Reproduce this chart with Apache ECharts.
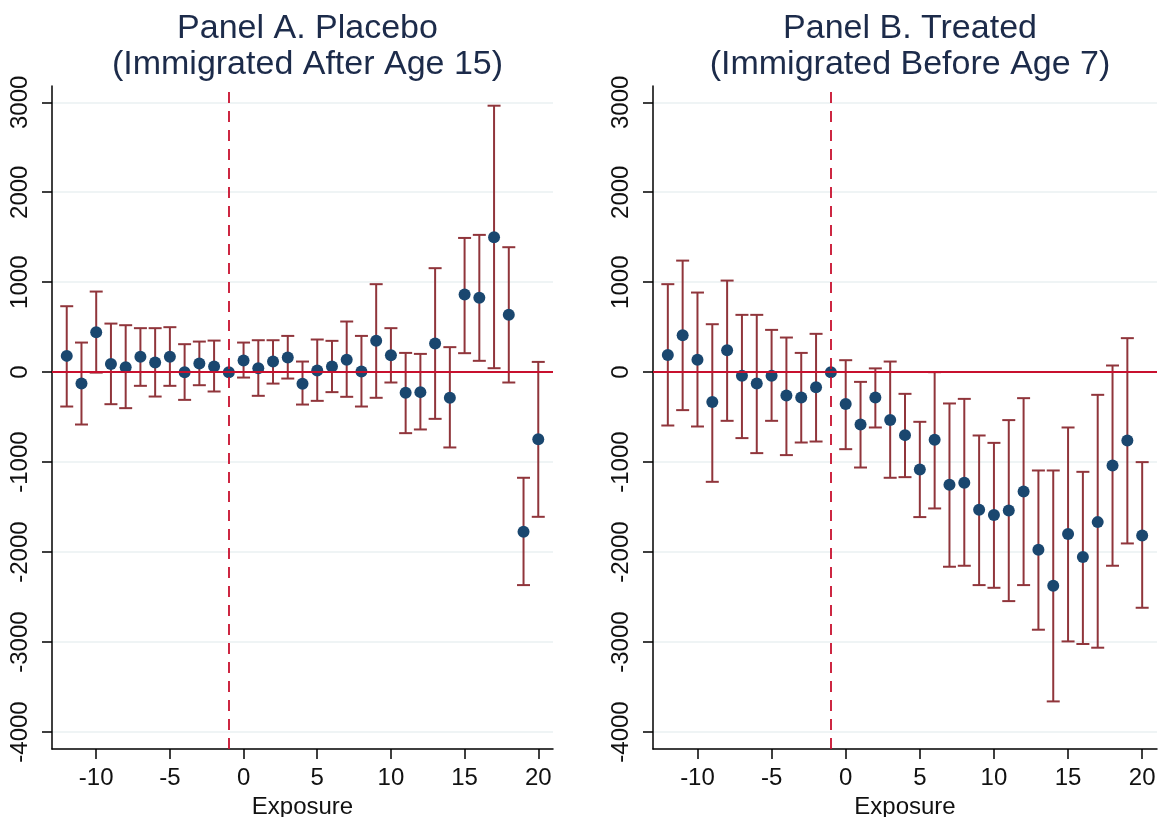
<!DOCTYPE html>
<html>
<head>
<meta charset="utf-8">
<script src="https://cdn.jsdelivr.net/npm/echarts@6/dist/echarts.min.js"></script>
<style>
  html, body {margin: 0; padding: 0; background: #fff;}
  #main {width: 1158px; height: 817px;}
</style>
</head>
<body>
<div id="main"></div>
<script>
// event-time coefficients, exposure -12..20 (-1 is the omitted year)
const exposure = [-12,-11,-10,-9,-8,-7,-6,-5,-4,-3,-2,-1,0,1,2,3,4,5,6,7,8,9,10,11,12,13,14,15,16,17,18,19,20]

const placeboEst = [181,-125,444,92,55,170,107,170,0,96,62,0,129,44,118,163,-130,18,62,137,7,348,189,-230,-222,318,-285,862,826,1500,637,-1774,-745]
const placeboLo = [-382,-582,-5,-356,-400,-152,-271,-152,-308,-145,-215,null,-60,-263,-127,-71,-360,-319,-222,-274,-382,-285,-115,-678,-637,-519,-837,211,126,44,-115,-2367,-1608]
const placeboHi = [733,329,896,540,522,489,489,500,311,340,351,null,329,355,355,403,118,363,348,563,403,978,489,214,203,1156,278,1492,1526,2962,1389,-1174,114]

const treatedEst = [192,411,137,-333,244,-39,-127,-41,-259,-282,-167,0,-354,-582,-282,-531,-700,-1082,-752,-1252,-1230,-1530,-1589,-1537,-1326,-1974,-2374,-1800,-2056,-1667,-1037,-759,-1815]
const treatedLo = [-593,-422,-604,-1219,-541,-733,-900,-541,-922,-782,-771,null,-856,-1060,-615,-1174,-1167,-1611,-1515,-2163,-2152,-2367,-2397,-2545,-2367,-2863,-3660,-2993,-3022,-3063,-2152,-1904,-2619]
const treatedHi = [978,1240,885,533,1018,637,637,470,385,214,426,null,133,-108,42,118,-241,-552,0,-348,-297,-704,-786,-533,-289,-1093,-1093,-615,-1108,-252,74,378,-1000]

const yTicks = [-4000,-3000,-2000,-1000,0,1000,2000,3000]
const xTicks = [-10,-5,0,5,10,15,20]
const titles = ['Panel A. Placebo\n(Immigrated After Age 15)', 'Panel B. Treated\n(Immigrated Before Age 7)']

const font = "'Liberation Sans', Arial, sans-serif"
const navy = '#1a476f'
const maroon = '#90353b'
const red = '#c8102e'

function barData(lo, hi) {
  let out = []
  for (let i = 0; i < exposure.length; i++) {
    if (lo[i] === null) continue
    out.push([exposure[i], lo[i], hi[i]])
  }
  return out
}
function pointData(est) {
  return exposure.map((x, i) => [x, est[i]])
}

function renderBar(params, api) {
  const top = api.coord([api.value(0), api.value(2)])
  const bot = api.coord([api.value(0), api.value(1)])
  const w = 6.5
  const style = {stroke: maroon, lineWidth: 2}
  return {
    type: 'group',
    children: [
      {type: 'line', shape: {x1: top[0], y1: top[1], x2: bot[0], y2: bot[1]}, style: style},
      {type: 'line', shape: {x1: top[0] - w, y1: top[1], x2: top[0] + w, y2: top[1]}, style: style},
      {type: 'line', shape: {x1: bot[0] - w, y1: bot[1], x2: bot[0] + w, y2: bot[1]}, style: style}
    ]
  }
}

const grids = [
  {left: 52, top: 86, width: 501, height: 663, outerBoundsMode: 'none'},
  {left: 653, top: 86, width: 504, height: 663, outerBoundsMode: 'none'}
]

let xAxes = [], yAxes = [], series = [], titleList = []
for (let k = 0; k < 2; k++) {
  titleList.push({
    text: titles[k],
    left: grids[k].left + grids[k].width / 2,
    top: 6,
    textAlign: 'center',
    textStyle: {fontFamily: font, fontSize: 34, fontWeight: 'normal', color: '#1c2b4a', lineHeight: 36}
  })
  xAxes.push({
    gridIndex: k,
    type: 'value',
    min: -13,
    max: 21,
    name: 'Exposure',
    nameLocation: 'middle',
    nameGap: 42,
    nameTextStyle: {fontFamily: font, fontSize: 24, color: '#111'},
    axisLine: {onZero: false, lineStyle: {color: '#000', width: 1.5}},
    axisTick: {customValues: xTicks, length: 10, lineStyle: {color: '#000', width: 1.5}},
    axisLabel: {customValues: xTicks, margin: 17, fontFamily: font, fontSize: 24, color: '#111',
      formatter: v => String(v)},
    splitLine: {show: false}
  })
  yAxes.push({
    gridIndex: k,
    type: 'value',
    min: -4189,
    max: 3181,
    axisLine: {show: true, onZero: false, lineStyle: {color: '#000', width: 1.5}},
    axisTick: {customValues: yTicks, length: 10, lineStyle: {color: '#000', width: 1.5}},
    axisLabel: {customValues: yTicks, rotate: 90, margin: 20, fontFamily: font, fontSize: 24, color: '#111',
      formatter: v => String(v)},
    splitLine: {show: true, lineStyle: {color: '#eaf0f2', width: 1.5}}
  })
  const lo = k === 0 ? placeboLo : treatedLo
  const hi = k === 0 ? placeboHi : treatedHi
  const est = k === 0 ? placeboEst : treatedEst
  series.push({
    type: 'custom',
    xAxisIndex: k,
    yAxisIndex: k,
    z: 2,
    renderItem: renderBar,
    data: barData(lo, hi),
    markLine: {
      silent: true,
      symbol: 'none',
      label: {show: false},
      data: [
        {yAxis: 0, lineStyle: {color: red, type: 'solid', width: 1.8}},
        {xAxis: -1, lineStyle: {color: red, type: [11, 8], width: 1.8}}
      ]
    }
  })
  series.push({
    type: 'scatter',
    xAxisIndex: k,
    yAxisIndex: k,
    z: 3,
    symbolSize: 12,
    itemStyle: {color: navy, opacity: 1},
    data: pointData(est)
  })
}

const chart = echarts.init(document.getElementById('main'))
chart.setOption({
  backgroundColor: '#fff',
  animation: false,
  title: titleList,
  grid: grids,
  xAxis: xAxes,
  yAxis: yAxes,
  series: series
})
</script>
</body>
</html>
